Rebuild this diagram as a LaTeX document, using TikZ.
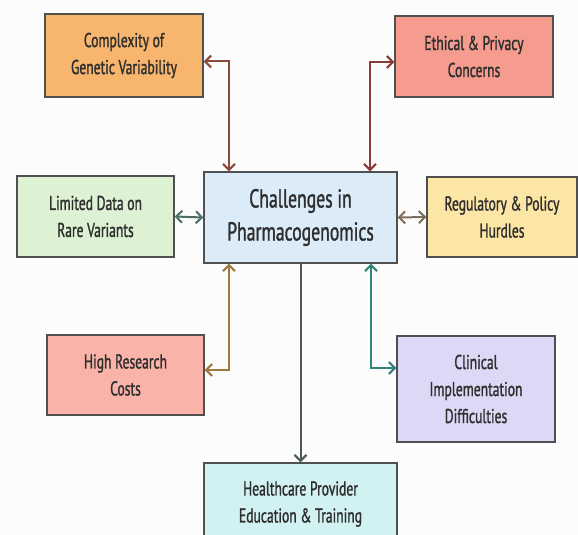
\documentclass[tikz,border=0pt]{standalone}
\usepackage{fontspec}
\usepackage{tikz}
\usetikzlibrary{arrows.meta}
\newfontfamily\boxfont{PT Sans}[FakeStretch=0.68, FakeBold=1.2]

\definecolor{bgcol}{HTML}{FCFCFC}
\definecolor{edgecol}{HTML}{505050}
\definecolor{txtcol}{HTML}{2E2E2E}
\definecolor{compfill}{HTML}{F7B56E}
\definecolor{ethfill}{HTML}{F59C8F}
\definecolor{limfill}{HTML}{DDF2D4}
\definecolor{chalfill}{HTML}{DCEBF8}
\definecolor{regfill}{HTML}{FCE6A6}
\definecolor{costfill}{HTML}{FAB3A9}
\definecolor{clinfill}{HTML}{DDD8F6}
\definecolor{edufill}{HTML}{D2F1F2}
\definecolor{compline}{HTML}{8B4A3C}
\definecolor{ethline}{HTML}{8B3A3A}
\definecolor{limline}{HTML}{4A6E62}
\definecolor{regline}{HTML}{7E6C5A}
\definecolor{costline}{HTML}{A07840}
\definecolor{clinline}{HTML}{2E8578}
\definecolor{eduline}{HTML}{4A5858}

\tikzset{
  challenge/.style={draw=edgecol, line width=1.4pt, align=center, text=txtcol,
    font=\boxfont\fontsize{20}{27}\selectfont, inner sep=0pt},
  link/.style={line width=2pt, {Straight Barb[length=6pt,width=12pt]}-{Straight Barb[length=6pt,width=12pt]}}
}

\begin{document}
\begin{tikzpicture}[x=1pt, y=-1pt]
        \useasboundingbox (0,0) rectangle (578,535);
        \clip (0,0) rectangle (578,535);
        \fill[bgcol] (0,0) rectangle (578,535);

        % boxes
        \node[challenge, fill=chalfill, minimum width=193pt, minimum height=91pt,
              font=\boxfont\fontsize{26}{33}\selectfont] (chal) at (300.5,217.5) {Challenges in\\Pharmacogenomics};
        \node[challenge, fill=compfill, minimum width=158pt, minimum height=83pt] (comp) at (124,55.5) {Complexity of\\Genetic Variability};
        \node[challenge, fill=ethfill, minimum width=158pt, minimum height=81pt] (eth) at (474,56.5) {Ethical \& Privacy\\Concerns};
        \node[challenge, fill=limfill, minimum width=157pt, minimum height=81pt] (lim) at (95.5,216.5) {Limited Data on\\Rare Variants};
        \node[challenge, fill=regfill, minimum width=150pt, minimum height=80pt] (reg) at (502,217) {Regulatory \& Policy\\Hurdles};
        \node[challenge, fill=costfill, minimum width=157pt, minimum height=80pt] (cost) at (125.5,375) {High Research\\Costs};
        \node[challenge, fill=clinfill, minimum width=158pt, minimum height=106pt] (clin) at (476,389) {Clinical\\Implementation\\Difficulties};
        \node[challenge, fill=edufill, minimum width=193pt, minimum height=82pt] (edu) at (300.5,504) {Healthcare Provider\\Education \& Training};

        % connectors
        \draw[link, compline] ([yshift=-6pt]comp.east) -| ([xshift=-71.5pt]chal.north);
        \draw[link, ethline] ([xshift=69.5pt]chal.north) |- ([yshift=-5.5pt]eth.west);
        \draw[link, limline] (lim.east) -- (chal.west);
        \draw[link, regline] (chal.east) -- (reg.west);
        \draw[link, costline] ([xshift=-71.5pt]chal.south) |- ([yshift=5pt]cost.east);
        \draw[link, clinline] ([xshift=70.5pt]chal.south) |- ([yshift=21pt]clin.west);
        \draw[line width=2pt, eduline, -{Straight Barb[length=6pt,width=12pt]}] (chal.south) -- (edu.north);
    \end{tikzpicture}
\end{document}
